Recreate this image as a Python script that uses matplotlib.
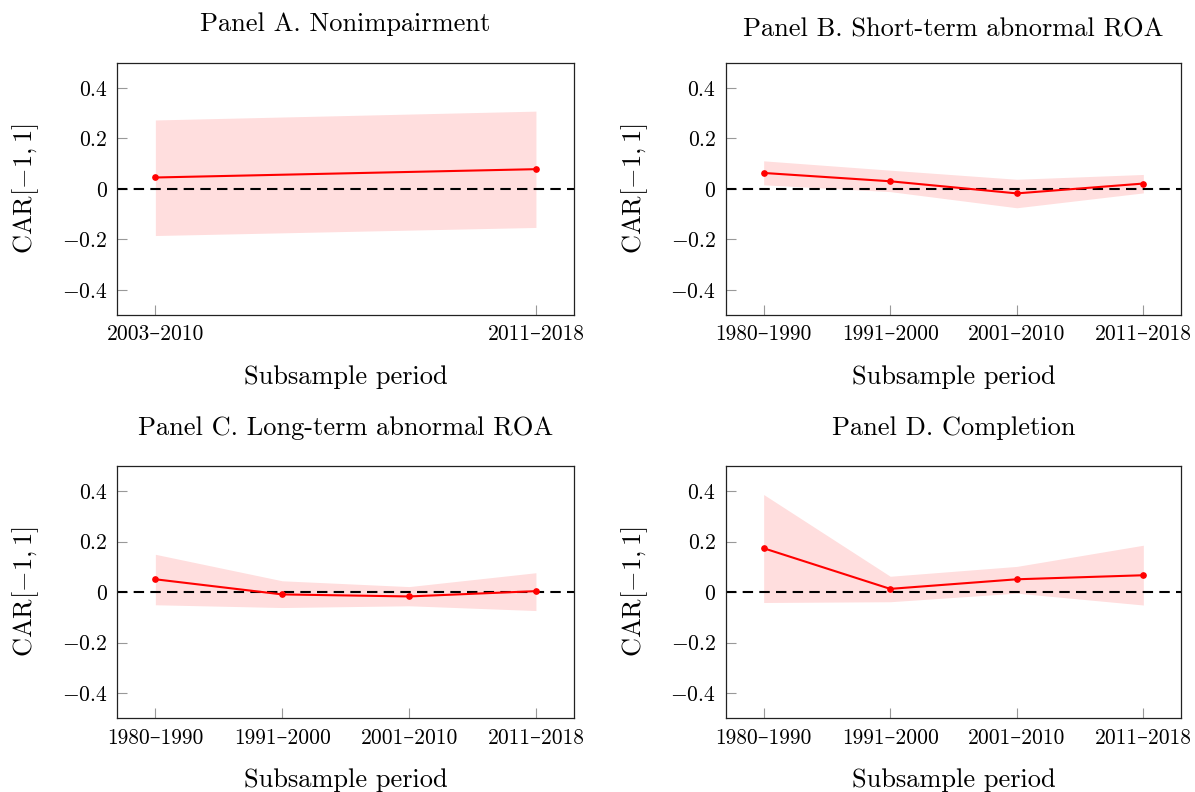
import matplotlib
matplotlib.use("Agg")
import matplotlib.pyplot as plt
import numpy as np

plt.rcParams['font.family'] = ['cmr10', 'DejaVu Serif']
plt.rcParams['mathtext.fontset'] = 'cm'
plt.rcParams['axes.unicode_minus'] = False

# subsample periods
periods_a = ['2003–2010', '2011–2018']
periods_bcd = ['1980–1990', '1991–2000', '2001–2010', '2011–2018']

# CAR[-1,1] estimates with lower / upper confidence bounds
car_a = [0.045, 0.078]
lo_a = [-0.185, -0.153]
hi_a = [0.273, 0.308]

car_b = [0.063, 0.030, -0.018, 0.021]
lo_b = [0.016, -0.011, -0.075, -0.016]
hi_b = [0.111, 0.074, 0.038, 0.057]

car_c = [0.051, -0.009, -0.017, 0.004]
lo_c = [-0.050, -0.061, -0.054, -0.073]
hi_c = [0.150, 0.045, 0.022, 0.077]

car_d = [0.174, 0.013, 0.051, 0.067]
lo_d = [-0.041, -0.038, -0.004, -0.051]
hi_d = [0.387, 0.063, 0.102, 0.186]

titles = ['Panel A. Nonimpairment', 'Panel B. Short-term abnormal ROA',
          'Panel C. Long-term abnormal ROA', 'Panel D. Completion']

yticks = [-0.4, -0.2, 0, 0.2, 0.4]
ytick_labels = ['$-0.4$', '$-0.2$', '$0$', '$0.2$', '$0.4$']

W, H = 1195, 792
fig = plt.figure(figsize=(W / 100, H / 100), dpi=100)

# axes boxes in pixels: left, top, right, bottom
boxes = [(117.3, 62.7, 574.0, 315.0), (725.7, 62.7, 1181.3, 315.0),
         (117.3, 466.0, 574.0, 718.3), (725.7, 466.0, 1181.3, 718.3)]

panels = [(periods_a, car_a, lo_a, hi_a), (periods_bcd, car_b, lo_b, hi_b),
          (periods_bcd, car_c, lo_c, hi_c), (periods_bcd, car_d, lo_d, hi_d)]

# titles without descenders sit a little lower
title_pads = [22.6, 18.6, 22.6, 22.6]

for i, ((labels, car, lo, hi), (l, t, r, b)) in enumerate(zip(panels, boxes)):
    ax = fig.add_axes([l / W, 1 - b / H, (r - l) / W, (b - t) / H])
    x = np.arange(len(labels))
    n = len(labels) - 1
    ax.fill_between(x, lo, hi, color='#ffdede', linewidth=0, zorder=1)
    ax.axhline(0, color='black', linestyle=(0, (5, 3)), linewidth=1.5, zorder=2)
    ax.plot(x, car, color='red', linewidth=1.5, marker='o', markersize=3.8, zorder=3)
    ax.set_xlim(-0.1 * n, 1.1 * n)
    ax.set_ylim(-0.5, 0.5)
    ax.set_xticks(x)
    ax.set_xticklabels(labels)
    ax.set_yticks(yticks)
    ax.set_yticklabels(ytick_labels)
    ax.tick_params(direction='in', length=7, width=0.8, color='#999999',
                   labelsize=15.5, pad=7, top=False, right=False)
    for s in ax.spines.values():
        s.set_linewidth(0.9)
        s.set_color('#222222')
    ax.set_title(titles[i], fontsize=19, pad=title_pads[i])
    ax.set_xlabel('Subsample period', fontsize=19, labelpad=15)
    ax.set_ylabel(r'$\mathrm{CAR}[-1,1]$', fontsize=19, labelpad=15)

fig.savefig('out.png', dpi=100)
